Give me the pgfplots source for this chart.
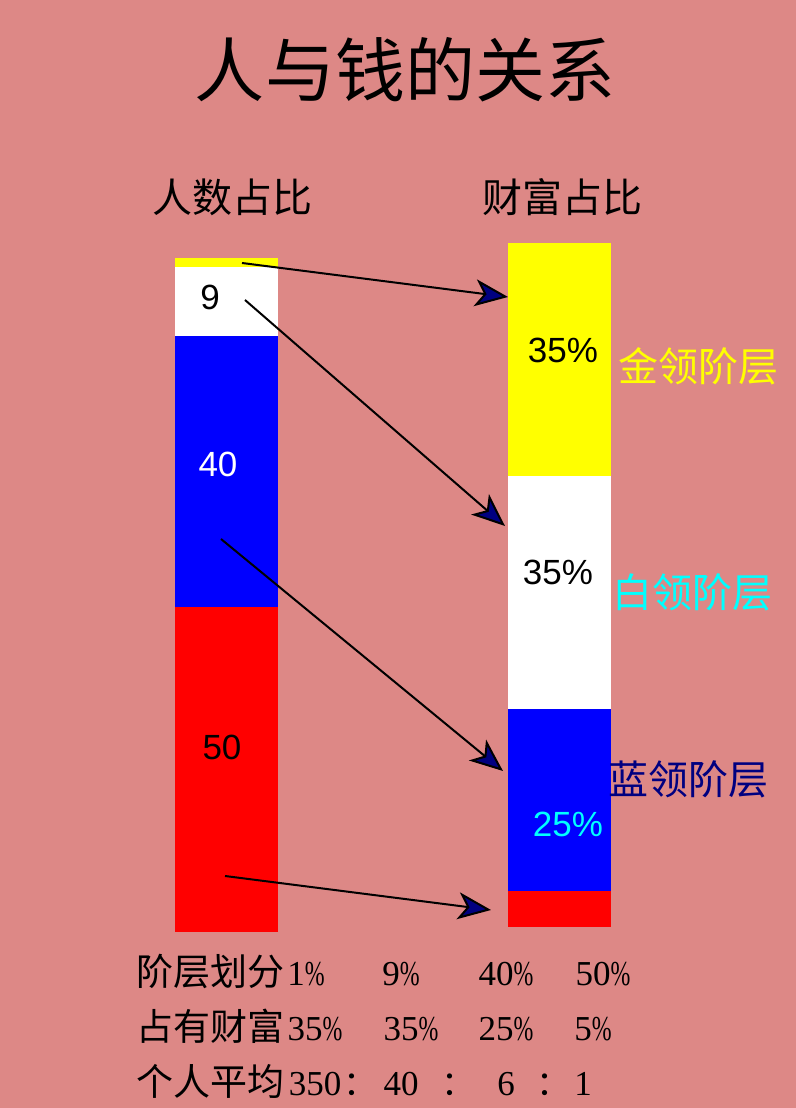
\documentclass[border=0pt]{standalone}
\usepackage{pgfplots}
\pgfplotsset{compat=1.18}
\usepackage{graphicx}
\usepackage{fontspec}
\setmainfont{Liberation Sans}
\newfontfamily\cjk{Noto Sans CJK SC}
\newfontfamily\snum{Liberation Serif}
\usetikzlibrary{arrows.meta}
\definecolor{bg}{RGB}{221,136,134}
\definecolor{navyc}{RGB}{0,0,128}
\definecolor{yel}{RGB}{255,255,0}
\definecolor{cya}{RGB}{0,255,255}
\definecolor{blu}{RGB}{0,0,255}
\definecolor{re}{RGB}{255,0,0}
\newcommand{\pc}{\scalebox{0.68}[1]{\%}}
\newcommand{\nf}{\snum\fontsize{35bp}{37bp}\selectfont}
\begin{document}
\begin{tikzpicture}
\begin{scope}[yshift=1108bp,x=1bp,y=-1bp]
\fill[bg] (0,0) rectangle (796,1108);
\end{scope}
% left bar: population share
\begin{axis}[at={(175bp,176bp)}, anchor=south west, scale only axis,
  width=103bp, height=674bp, hide axis, xmin=-0.5, xmax=0.5, ymin=0, ymax=100,
  ybar stacked, bar width=103bp, clip=false]
\addplot[fill=re, draw=none] coordinates {(0,48.2)};
\addplot[fill=blu, draw=none] coordinates {(0,40.2)};
\addplot[fill=white, draw=none] coordinates {(0,10.24)};
\addplot[fill=yel, draw=none] coordinates {(0,1.36)};
\end{axis}
% right bar: wealth share
\begin{axis}[at={(507.5bp,181bp)}, anchor=south west, scale only axis,
  width=103bp, height=684bp, hide axis, xmin=-0.5, xmax=0.5, ymin=0, ymax=100,
  ybar stacked, bar width=103bp, clip=false]
\addplot[fill=re, draw=none] coordinates {(0,5.26)};
\addplot[fill=blu, draw=none] coordinates {(0,26.6)};
\addplot[fill=white, draw=none] coordinates {(0,34.07)};
\addplot[fill=yel, draw=none] coordinates {(0,34.07)};
\end{axis}
\begin{scope}[yshift=1108bp,x=1bp,y=-1bp]
% title and headers
\node[inner sep=0] at (405,70) {\cjk\fontsize{70bp}{72bp}\selectfont 人与钱的关系};
\node[inner sep=0] at (232,197) {\cjk\fontsize{40bp}{42bp}\selectfont 人数占比};
\node[inner sep=0] at (562,197) {\cjk\fontsize{40bp}{42bp}\selectfont 财富占比};
% bar labels
\node[inner sep=0] at (210,297) {\fontsize{35bp}{37bp}\selectfont 9};
\node[inner sep=0,white] at (218,464) {\fontsize{35bp}{37bp}\selectfont 40};
\node[inner sep=0] at (222,747) {\fontsize{35bp}{37bp}\selectfont 50};
\node[inner sep=0] at (563,350) {\fontsize{35bp}{37bp}\selectfont 35\%};
\node[inner sep=0] at (558,572) {\fontsize{35bp}{37bp}\selectfont 35\%};
\node[inner sep=0,cya] at (568,824) {\fontsize{35bp}{37bp}\selectfont 25\%};
% class labels
\node[inner sep=0,anchor=west,yel] at (618,366) {\cjk\fontsize{40bp}{42bp}\selectfont 金领阶层};
\node[inner sep=0,anchor=west,cya] at (612,592) {\cjk\fontsize{40bp}{42bp}\selectfont 白领阶层};
\node[inner sep=0,anchor=west,navyc] at (608,779) {\cjk\fontsize{40bp}{42bp}\selectfont 蓝领阶层};
% arrows
\begin{scope}[line width=2bp, -{Stealth[length=33bp,width=27bp,inset=9bp,fill=navyc]}]
\draw (242,263) -- (508,297);
\draw (245,300) -- (505,526);
\draw (221,539) -- (503,771);
\draw (225,876) -- (491,910);
\end{scope}
% bottom table
\node[inner sep=0,anchor=base west] at (136,986) {\cjk\fontsize{37bp}{39bp}\selectfont 阶层划分};
\node[inner sep=0,anchor=base west] at (136,1041) {\cjk\fontsize{37bp}{39bp}\selectfont 占有财富};
\node[inner sep=0,anchor=base west] at (136,1096) {\cjk\fontsize{37bp}{39bp}\selectfont 个人平均};
\begin{scope}[every node/.style={inner sep=0,anchor=base}]
\node at (306,986) {\nf 1\pc};
\node at (401,986) {\nf 9\pc};
\node at (506,986) {\nf 40\pc};
\node at (603,986) {\nf 50\pc};
\node at (315,1041) {\nf 35\pc};
\node at (411,1041) {\nf 35\pc};
\node at (506,1041) {\nf 25\pc};
\node at (593,1041) {\nf 5\pc};
\node at (315,1096) {\nf 350};
\node at (360,1096) {\cjk\fontsize{34bp}{36bp}\selectfont ：};
\node at (401,1096) {\nf 40};
\node at (458,1096) {\cjk\fontsize{34bp}{36bp}\selectfont ：};
\node at (506,1096) {\nf 6};
\node at (553,1096) {\cjk\fontsize{34bp}{36bp}\selectfont ：};
\node at (583,1096) {\nf 1};
\end{scope}
\end{scope}
\end{tikzpicture}
\end{document}
